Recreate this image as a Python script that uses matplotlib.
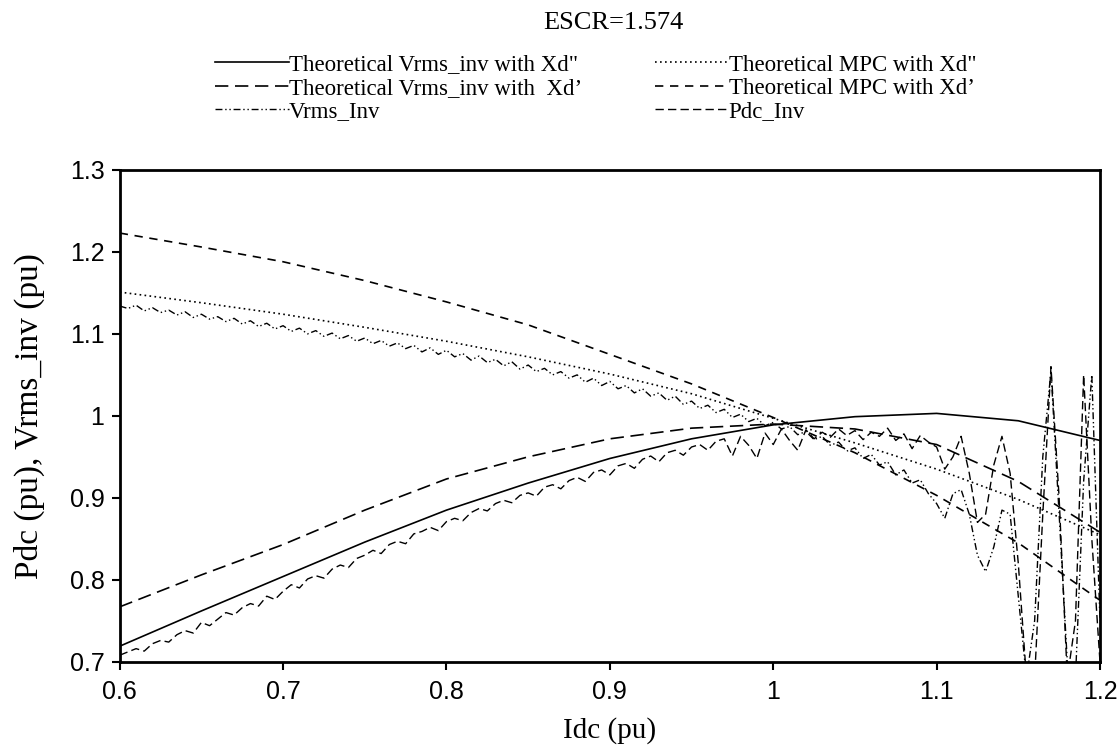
import matplotlib.pyplot as plt

# theoretical curves (Idc in pu)
idc = [0.60, 0.65, 0.70, 0.75, 0.80, 0.85, 0.90, 0.95, 1.00, 1.05, 1.10, 1.15, 1.20]
vrms_xd2 = [0.719, 0.762, 0.804, 0.846, 0.885, 0.918, 0.948, 0.972, 0.989, 0.999, 1.003, 0.994, 0.970]
vrms_xd1 = [0.767, 0.806, 0.843, 0.885, 0.923, 0.950, 0.972, 0.985, 0.990, 0.984, 0.965, 0.920, 0.858]
mpc_xd2 = [1.151, 1.138, 1.124, 1.108, 1.091, 1.072, 1.051, 1.027, 0.997, 0.967, 0.935, 0.898, 0.855]
mpc_xd1 = [1.223, 1.206, 1.188, 1.165, 1.139, 1.111, 1.075, 1.039, 0.998, 0.955, 0.903, 0.845, 0.775]

# measured (simulation) curves
idc_sim = [0.600, 0.605, 0.610, 0.615, 0.620, 0.625, 0.630, 0.635, 0.640, 0.645,
           0.650, 0.655, 0.660, 0.665, 0.670, 0.675, 0.680, 0.685, 0.690, 0.695,
           0.700, 0.705, 0.710, 0.715, 0.720, 0.725, 0.730, 0.735, 0.740, 0.745,
           0.750, 0.755, 0.760, 0.765, 0.770, 0.775, 0.780, 0.785, 0.790, 0.795,
           0.800, 0.805, 0.810, 0.815, 0.820, 0.825, 0.830, 0.835, 0.840, 0.845,
           0.850, 0.855, 0.860, 0.865, 0.870, 0.875, 0.880, 0.885, 0.890, 0.895,
           0.900, 0.905, 0.910, 0.915, 0.920, 0.925, 0.930, 0.935, 0.940, 0.945,
           0.950, 0.955, 0.960, 0.965, 0.970, 0.975, 0.980, 0.985, 0.990, 0.995,
           1.000, 1.005, 1.010, 1.015, 1.020, 1.025, 1.030, 1.035, 1.040, 1.045,
           1.050, 1.055, 1.060, 1.065, 1.070, 1.075, 1.080, 1.085, 1.090, 1.095,
           1.100, 1.105, 1.110, 1.115, 1.120, 1.125, 1.130, 1.135, 1.140, 1.145,
           1.150, 1.155, 1.160, 1.165, 1.170, 1.175, 1.180, 1.185, 1.190, 1.195,
           1.200]
vrms_inv = [1.134, 1.131, 1.135, 1.128, 1.132, 1.126, 1.129, 1.123, 1.127, 1.120,
            1.124, 1.118, 1.121, 1.115, 1.119, 1.112, 1.116, 1.109, 1.113, 1.106,
            1.110, 1.103, 1.107, 1.100, 1.104, 1.097, 1.101, 1.094, 1.098, 1.091,
            1.095, 1.088, 1.092, 1.085, 1.089, 1.082, 1.086, 1.078, 1.083, 1.075,
            1.080, 1.072, 1.076, 1.068, 1.073, 1.065, 1.069, 1.061, 1.066, 1.057,
            1.062, 1.054, 1.058, 1.050, 1.054, 1.046, 1.050, 1.041, 1.046, 1.037,
            1.042, 1.033, 1.037, 1.028, 1.033, 1.024, 1.028, 1.019, 1.024, 1.014,
            1.018, 1.009, 1.013, 1.004, 1.008, 0.998, 1.002, 0.993, 0.997, 0.988,
            0.992, 0.984, 0.987, 0.977, 0.981, 0.971, 0.975, 0.964, 0.968, 0.957,
            0.961, 0.948, 0.953, 0.940, 0.944, 0.928, 0.934, 0.918, 0.922, 0.905,
            0.893, 0.875, 0.905, 0.910, 0.880, 0.830, 0.810, 0.840, 0.885, 0.880,
            0.780, 0.680, 0.750, 0.950, 1.055, 0.880, 0.700, 0.680, 0.920, 1.050,
            0.750]
pdc_inv = [0.708, 0.712, 0.716, 0.713, 0.722, 0.726, 0.724, 0.733, 0.738, 0.735,
           0.748, 0.744, 0.752, 0.760, 0.757, 0.766, 0.771, 0.768, 0.780, 0.776,
           0.786, 0.794, 0.790, 0.801, 0.805, 0.802, 0.813, 0.818, 0.815, 0.826,
           0.830, 0.836, 0.832, 0.843, 0.847, 0.844, 0.856, 0.859, 0.864, 0.860,
           0.871, 0.875, 0.872, 0.882, 0.887, 0.884, 0.893, 0.897, 0.894, 0.903,
           0.906, 0.902, 0.913, 0.916, 0.911, 0.921, 0.925, 0.920, 0.931, 0.934,
           0.928, 0.939, 0.942, 0.936, 0.947, 0.951, 0.944, 0.955, 0.958, 0.952,
           0.962, 0.965, 0.958, 0.969, 0.972, 0.951, 0.975, 0.964, 0.948, 0.979,
           0.965, 0.984, 0.970, 0.958, 0.983, 0.972, 0.980, 0.974, 0.984, 0.976,
           0.982, 0.971, 0.980, 0.975, 0.985, 0.970, 0.978, 0.960, 0.976, 0.968,
           0.962, 0.935, 0.950, 0.975, 0.930, 0.870, 0.880, 0.940, 0.975, 0.930,
           0.820, 0.680, 0.680, 0.880, 1.060, 0.900, 0.680, 0.750, 1.050, 0.850,
           0.700]

plt.rcParams['font.family'] = ['Liberation Serif']
fig = plt.figure(figsize=(11.19, 7.52), dpi=100)
ax = fig.add_axes([0.107, 0.12, 0.876, 0.654])

# plotted in legend order (legend fills column by column)
ax.plot(idc, vrms_xd2, color='black', lw=1.2, ls='-', label='Theoretical Vrms_inv with Xd"')
ax.plot(idc, vrms_xd1, color='black', lw=1.2, ls=(0, (8, 4)), label="Theoretical Vrms_inv with  Xd\u2019")
ax.plot(idc_sim, vrms_inv, color='black', lw=1.0, ls=(0, (5, 2, 1, 2, 1, 2)), label='Vrms_Inv')
ax.plot(idc, mpc_xd2, color='black', lw=1.2, ls=(0, (1, 2)), label='Theoretical MPC with Xd"')
ax.plot(idc, mpc_xd1, color='black', lw=1.2, ls=(0, (5, 4)), label="Theoretical MPC with Xd\u2019")
ax.plot(idc_sim, pdc_inv, color='black', lw=1.0, ls=(0, (6, 3)), label='Pdc_Inv')

ax.set_xlim(0.6, 1.2)
ax.set_ylim(0.7, 1.3)
ax.set_xticks([0.6, 0.7, 0.8, 0.9, 1.0, 1.1, 1.2])
ax.set_xticklabels(['0.6', '0.7', '0.8', '0.9', '1', '1.1', '1.2'], family='Liberation Sans', fontsize=18)
ax.set_yticks([0.7, 0.8, 0.9, 1.0, 1.1, 1.2, 1.3])
ax.set_yticklabels(['0.7', '0.8', '0.9', '1', '1.1', '1.2', '1.3'], family='Liberation Sans', fontsize=18)
ax.tick_params(axis='x', direction='out', length=6, width=1.5, pad=7)
ax.tick_params(axis='y', direction='out', length=6, width=1.5, pad=5)
for sp in ax.spines.values():
    sp.set_linewidth(2)

ax.set_xlabel('Idc (pu)', fontsize=21)
ax.set_ylabel('Pdc (pu), Vrms_inv (pu)', fontsize=24)
ax.xaxis.set_label_coords(0.5, -0.112)
ax.yaxis.set_label_coords(-0.076, 0.5)
fig.text(0.548, 0.969, 'ESCR=1.574', fontsize=19, ha='center', va='center')

fig.legend(*ax.get_legend_handles_labels(), loc='upper left',
           bbox_to_anchor=(0.174, 0.955), ncol=2, frameon=False,
           fontsize=16.5, handlelength=3.2, handletextpad=0.0, columnspacing=3.2,
           labelspacing=0.1, borderpad=0.4)

fig.savefig('out.png', dpi=100)
